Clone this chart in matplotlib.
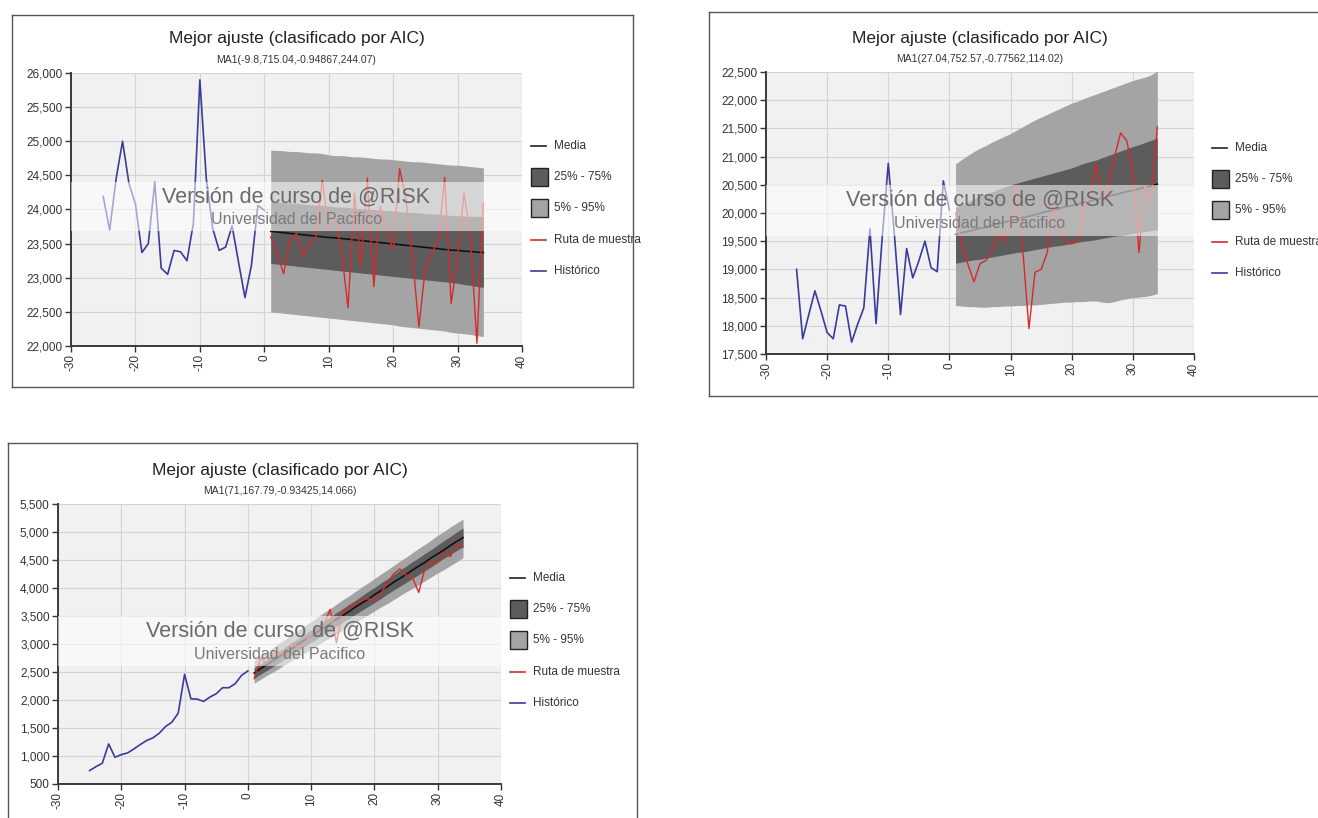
import matplotlib
matplotlib.use("Agg")
import matplotlib.pyplot as plt
from matplotlib.patches import Rectangle
from matplotlib.lines import Line2D
from matplotlib.ticker import FuncFormatter, MultipleLocator

plt.rcParams['font.family'] = ['Liberation Sans', 'DejaVu Sans']

W, H = 1318, 818

# ---------------- data ----------------
hist_x = list(range(-25, 1))
fc_x = list(range(1, 35))

titles = ["Mejor ajuste (clasificado por AIC)"] * 3
subtitles = ["MA1(-9.8,715.04,-0.94867,244.07)",
             "MA1(27.04,752.57,-0.77562,114.02)",
             "MA1(71,167.79,-0.93425,14.066)"]
legend_labels = ["Media", "25% - 75%", "5% - 95%", "Ruta de muestra", "Histórico"]
watermark_1 = "Versión de curso de @RISK"
watermark_2 = "Universidad del Pacifico"

# Panel 1
hist1 = [24190, 23700, 24450, 25000, 24380, 24080, 23370, 23500, 24400, 23140,
         23050, 23400, 23380, 23250, 23800, 25900, 24450, 23720, 23400, 23450,
         23760, 23230, 22710, 23180, 24060, 23990]
mean1 = [23680, 23670, 23660, 23650, 23640, 23630, 23620, 23610, 23600, 23590,
         23585, 23575, 23565, 23555, 23545, 23535, 23525, 23515, 23505, 23495,
         23485, 23475, 23465, 23455, 23445, 23435, 23425, 23415, 23405, 23400,
         23390, 23385, 23375, 23370]
p95_1 = [24870, 24865, 24860, 24850, 24850, 24840, 24830, 24830, 24820, 24800,
         24790, 24790, 24780, 24770, 24770, 24760, 24750, 24740, 24740, 24730,
         24720, 24710, 24700, 24700, 24690, 24680, 24670, 24660, 24650, 24650,
         24640, 24630, 24620, 24610]
p5_1 = [22500, 22490, 22480, 22470, 22460, 22450, 22440, 22430, 22420, 22410,
        22400, 22390, 22380, 22370, 22360, 22350, 22340, 22330, 22320, 22310,
        22290, 22280, 22270, 22260, 22250, 22240, 22230, 22220, 22200, 22190,
        22180, 22170, 22150, 22140]
p25_1 = [23210, 23200, 23190, 23180, 23170, 23160, 23150, 23140, 23130, 23120,
         23110, 23100, 23090, 23080, 23070, 23060, 23050, 23040, 23030, 23020,
         23010, 23000, 22990, 22980, 22970, 22960, 22950, 22940, 22930, 22920,
         22900, 22890, 22870, 22860]
p75_1 = [24120, 24110, 24100, 24095, 24090, 24080, 24070, 24065, 24060, 24050,
         24040, 24035, 24030, 24020, 24010, 24005, 24000, 23990, 23985, 23980,
         23970, 23960, 23955, 23950, 23940, 23935, 23930, 23920, 23915, 23910,
         23905, 23900, 23900, 23895]
path1 = [23600, 23350, 23060, 23550, 23650, 23310, 23500, 23600, 24430, 23700,
         23900, 23380, 22560, 24240, 23160, 24460, 22870, 24040, 23700, 23400,
         24600, 24150, 23300, 22280, 23150, 23350, 23560, 24470, 22620, 23300,
         24240, 23600, 22040, 24090]

# Panel 2
hist2 = [19000, 17770, 18200, 18620, 18260, 17880, 17770, 18370, 18350, 17710,
         18030, 18320, 19720, 18040, 19560, 20880, 19620, 18200, 19370, 18850,
         19150, 19500, 19030, 18960, 20570, 20050]
mean2 = [19620, 19650, 19670, 19700, 19730, 19750, 19780, 19810, 19840, 19860,
         19890, 19920, 19940, 19970, 20000, 20030, 20050, 20080, 20110, 20130,
         20160, 20190, 20210, 20240, 20270, 20300, 20320, 20350, 20380, 20400,
         20430, 20460, 20480, 20510]
p95_2 = [20870, 20950, 21020, 21090, 21150, 21200, 21260, 21310, 21360, 21410,
         21470, 21530, 21590, 21650, 21700, 21750, 21800, 21850, 21900, 21950,
         21985, 22030, 22070, 22110, 22150, 22190, 22230, 22270, 22310, 22350,
         22380, 22410, 22450, 22520]
p5_2 = [18360, 18350, 18340, 18340, 18330, 18330, 18340, 18340, 18350, 18350,
        18360, 18360, 18370, 18370, 18380, 18390, 18400, 18410, 18420, 18420,
        18430, 18430, 18440, 18440, 18420, 18410, 18430, 18460, 18480, 18500,
        18510, 18520, 18540, 18570]
p25_2 = [19110, 19130, 19150, 19170, 19180, 19200, 19220, 19240, 19260, 19280,
         19300, 19310, 19330, 19350, 19370, 19390, 19410, 19420, 19440, 19460,
         19480, 19500, 19510, 19530, 19550, 19570, 19590, 19600, 19620, 19640,
         19660, 19670, 19690, 19700]
p75_2 = [20100, 20150, 20200, 20250, 20300, 20340, 20380, 20420, 20460, 20500,
         20530, 20560, 20590, 20620, 20650, 20680, 20710, 20740, 20770, 20800,
         20840, 20880, 20910, 20940, 20980, 21020, 21060, 21100, 21140, 21180,
         21210, 21250, 21290, 21330]
path2 = [20000, 19450, 19100, 18780, 19100, 19160, 19340, 19650, 19480, 19900,
         20500, 19350, 17950, 18950, 19000, 19300, 20150, 19700, 19500, 19450,
         19520, 20100, 20300, 20880, 20200, 20450, 21000, 21420, 21280, 20750,
         19300, 20500, 20200, 21530]

# Panel 3
hist3 = [740, 810, 870, 1216, 978, 1025, 1055, 1127, 1205, 1276,
         1324, 1407, 1527, 1604, 1766, 2458, 2022, 2016, 1975, 2052,
         2112, 2219, 2219, 2291, 2440, 2518]
mean3 = [2480, 2560, 2630, 2700, 2780, 2850, 2920, 3000, 3070, 3140,
         3220, 3290, 3360, 3440, 3510, 3580, 3660, 3730, 3800, 3880,
         3950, 4020, 4100, 4170, 4240, 4320, 4390, 4460, 4540, 4610,
         4680, 4760, 4830, 4900]
p95_3 = [2700, 2790, 2860, 2940, 3020, 3090, 3170, 3250, 3330, 3400,
         3480, 3560, 3630, 3710, 3790, 3860, 3940, 4020, 4090, 4170,
         4250, 4320, 4400, 4480, 4550, 4630, 4710, 4780, 4860, 4940,
         5010, 5090, 5160, 5230]
p5_3 = [2300, 2370, 2440, 2500, 2570, 2640, 2710, 2780, 2840, 2910,
        2980, 3050, 3110, 3180, 3250, 3320, 3390, 3450, 3520, 3590,
        3660, 3720, 3790, 3860, 3930, 3990, 4060, 4130, 4200, 4270,
        4330, 4400, 4470, 4540]
p25_3 = [2390, 2460, 2530, 2600, 2670, 2750, 2820, 2890, 2960, 3030,
         3100, 3170, 3240, 3320, 3390, 3460, 3530, 3600, 3670, 3740,
         3810, 3890, 3960, 4030, 4100, 4170, 4240, 4310, 4380, 4460,
         4530, 4600, 4670, 4740]
p75_3 = [2570, 2650, 2720, 2800, 2870, 2950, 3030, 3100, 3180, 3250,
         3330, 3410, 3480, 3560, 3630, 3710, 3780, 3860, 3940, 4010,
         4090, 4160, 4240, 4320, 4390, 4470, 4540, 4620, 4690, 4770,
         4850, 4920, 5000, 5070]
path3 = [2380, 2750, 2650, 2830, 2860, 2770, 3000, 2950, 3040, 3150,
         3270, 3330, 3620, 3020, 3600, 3660, 3710, 3780, 3810, 3770,
         3900, 4080, 4250, 4340, 4230, 4190, 3920, 4360, 4480, 4450,
         4640, 4560, 4800, 4730]

x_ticks = [-30, -20, -10, 0, 10, 20, 30, 40]

# ---------------- styling ----------------
C_BLUE = '#3b3b9c'
C_RED = '#d42a2a'
C_OUTER = '#a4a4a4'
C_INNER = '#5c5c5c'
C_BG = '#f1f1f1'
C_GRID = '#d4d4d4'
C_TEXT = '#333333'

fig = plt.figure(figsize=(W / 100, H / 100), dpi=100)
fig.patch.set_facecolor('white')


def fx(px):
    return px / W


def fy(py):
    return 1 - py / H


def add_frame(l, t, r, b):
    fig.add_artist(Line2D([fx(l), fx(r)], [fy(t), fy(t)], color='#555555', lw=1.0))
    fig.add_artist(Line2D([fx(l), fx(l)], [fy(t), fy(b)], color='#555555', lw=1.0))
    if r < W:
        fig.add_artist(Line2D([fx(r), fx(r)], [fy(t), fy(b)], color='#555555', lw=1.0))
    if b < H:
        fig.add_artist(Line2D([fx(l), fx(r)], [fy(b), fy(b)], color='#555555', lw=1.0))


def panel(box, ylim, hist, mean, p5, p25, p75, p95, path, title, subtitle, legend_pos):
    l, t, r, b = box
    ax = fig.add_axes([fx(l), fy(b), fx(r - l), (b - t) / H])
    ax.set_facecolor(C_BG)
    ax.set_xlim(-30, 40)
    ax.set_ylim(*ylim)
    ax.set_xticks(x_ticks)
    ax.set_xticklabels([str(v) for v in x_ticks], rotation=90)
    ax.yaxis.set_major_locator(MultipleLocator(500))
    ax.yaxis.set_major_formatter(FuncFormatter(lambda v, p: f"{int(round(v)):,}"))
    ax.grid(True, color=C_GRID, lw=0.8)
    ax.set_axisbelow(True)
    for s in ['top', 'right']:
        ax.spines[s].set_visible(False)
    for s in ['left', 'bottom']:
        ax.spines[s].set_color('#3a3a3a')
        ax.spines[s].set_linewidth(1.4)
    ax.tick_params(axis='both', labelsize=8.5, colors=C_TEXT, length=4, width=1, pad=2)

    ax.fill_between(fc_x, p5, p95, color=C_OUTER, lw=0, zorder=2)
    ax.fill_between(fc_x, p25, p75, color=C_INNER, lw=0, zorder=3)
    ax.plot(fc_x, mean, color='#111111', lw=1.2, zorder=4)
    ax.plot(fc_x, path, color=C_RED, lw=1.0, zorder=5)
    ax.plot(hist_x, hist, color=C_BLUE, lw=1.2, zorder=5)

    # watermark
    ax.add_patch(Rectangle((0, 0.42), 1, 0.18, transform=ax.transAxes,
                           facecolor='white', alpha=0.55, lw=0, zorder=6))
    ax.text(0.5, 0.545, watermark_1, transform=ax.transAxes, ha='center', va='center',
            fontsize=15.5, color='#6a6a6a', zorder=7)
    ax.text(0.5, 0.462, watermark_2, transform=ax.transAxes, ha='center', va='center',
            fontsize=11.5, color='#7a7a7a', zorder=7)

    cx = (l + r) / 2
    fig.text(fx(cx), fy(t - 34), title, ha='center', va='center', fontsize=12.5, color='#222222')
    fig.text(fx(cx), fy(t - 13), subtitle, ha='center', va='center', fontsize=7.5, color='#333333')

    # legend
    lx, ly = legend_pos
    step = 31.2
    handles = ['line', 'box', 'box', 'line', 'line']
    hcols = ['#222222', C_INNER, C_OUTER, C_RED, C_BLUE]
    for i, lab in enumerate(legend_labels):
        yy = ly + i * step
        if handles[i] == 'line':
            fig.add_artist(Line2D([fx(lx), fx(lx + 15)], [fy(yy), fy(yy)], color=hcols[i], lw=1.2))
        else:
            fig.add_artist(Rectangle((fx(lx), fy(yy + 9)), 17 / W, 18 / H, facecolor=hcols[i],
                                     edgecolor='#222222', lw=1.0, transform=fig.transFigure))
        fig.text(fx(lx + 23), fy(yy), lab, ha='left', va='center', fontsize=8.5, color=C_TEXT)
    return ax


add_frame(12, 15, 633, 387)
add_frame(709, 12, W + 5, 396)
add_frame(8, 443, 637, H + 5)

panel((71, 73, 522, 346), (22000, 26000), hist1, mean1, p5_1, p25_1, p75_1, p95_1, path1,
      titles[0], subtitles[0], (531, 146))
panel((766, 72, 1194, 354), (17500, 22500), hist2, mean2, p5_2, p25_2, p75_2, p95_2, path2,
      titles[1], subtitles[1], (1212, 148))
panel((58, 504, 501, 784), (500, 5500), hist3, mean3, p5_3, p25_3, p75_3, p95_3, path3,
      titles[2], subtitles[2], (510, 578))

fig.savefig("out.png", dpi=100, facecolor='white')
